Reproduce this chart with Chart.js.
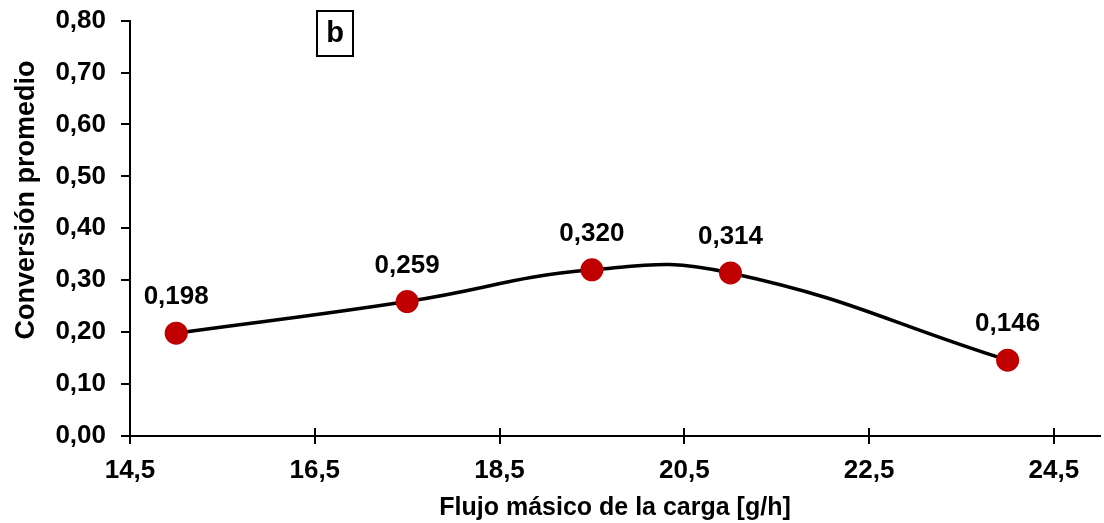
<!DOCTYPE html>
<html>
<head>
<meta charset="utf-8">
<script src="https://cdn.jsdelivr.net/npm/chart.js@4"></script>
<style>
    html, body { margin: 0; padding: 0; background: #ffffff; overflow: hidden; }
    #wrap { width: 1104px; height: 523px; overflow: hidden; position: relative; }
    #conversionChart { position: absolute; left: 0; top: -10px; }
</style>
</head>
<body>
<div id="wrap"><canvas id="conversionChart" width="1104" height="533"></canvas></div>
<script>
const flujoCarga = [15.0, 17.5, 19.5, 21.0, 24.0];
const conversion = [0.198, 0.259, 0.320, 0.314, 0.146];
const xTicks = [14.5, 16.5, 18.5, 20.5, 22.5, 24.5];
const yTicks = [0, 0.1, 0.2, 0.3, 0.4, 0.5, 0.6, 0.7, 0.8];
const panelLabel = "b";

const fontFamily = "'Liberation Sans', Arial, sans-serif";
const shift = 10; // canvas is moved up by this much

// labels, y title, panel box and inward half of x ticks
const extras = {
    id: "extras",
    afterDatasetsDraw(chart) {
        const ctx = chart.ctx;
        const meta = chart.getDatasetMeta(0);
        ctx.save();
        ctx.fillStyle = "#000";
        ctx.font = "bold 26px " + fontFamily;
        ctx.textAlign = "center";
        ctx.textBaseline = "middle";
        meta.data.forEach((pt, i) => {
            ctx.fillText(conversion[i].toFixed(3).replace(".", ","), pt.x, pt.y - 36);
        });
        ctx.restore();
    },
    afterDraw(chart) {
        const ctx = chart.ctx;
        const x = chart.scales.x;
        const area = chart.chartArea;
        ctx.save();
        ctx.strokeStyle = "#000";
        ctx.lineWidth = 2;
        xTicks.forEach((v) => {
            const px = Math.round(x.getPixelForValue(v));
            ctx.beginPath();
            ctx.moveTo(px, area.bottom - 8);
            ctx.lineTo(px, area.bottom);
            ctx.stroke();
        });

        // y axis title
        ctx.translate(27, 200 + shift);
        ctx.rotate(-Math.PI / 2);
        ctx.font = "bold 27px " + fontFamily;
        ctx.fillStyle = "#000";
        ctx.textAlign = "center";
        ctx.textBaseline = "middle";
        ctx.fillText("Conversión promedio", 0, 0);
        ctx.restore();

        // panel letter box
        ctx.save();
        ctx.strokeStyle = "#000";
        ctx.lineWidth = 2;
        ctx.strokeRect(317, 11 + shift, 36, 45);
        ctx.font = "bold 29px " + fontFamily;
        ctx.fillStyle = "#000";
        ctx.textAlign = "center";
        ctx.textBaseline = "middle";
        ctx.fillText(panelLabel, 335, 34 + shift);
        ctx.restore();
    }
};

new Chart(document.getElementById("conversionChart").getContext("2d"), {
    type: "line",
    data: {
        datasets: [
            {
                data: flujoCarga.map((f, i) => ({ x: f, y: conversion[i] })),
                borderColor: "#000000",
                borderWidth: 3.5,
                tension: 0.45,
                pointRadius: 11.5,
                pointBackgroundColor: "#C00000",
                pointBorderColor: "#C00000",
                pointBorderWidth: 0,
            },
        ],
    },
    options: {
        responsive: false,
        animation: false,
        events: [],
        layout: { autoPadding: false, padding: { top: 21, right: 4, left: 0, bottom: 0 } },
        plugins: {
            legend: { display: false },
            tooltip: { enabled: false },
        },
        scales: {
            x: {
                type: "linear",
                min: 14.5,
                max: 25,
                afterBuildTicks: (scale) => {
                    scale.ticks = xTicks.map((v) => ({ value: v }));
                },
                afterFit: (scale) => {
                    scale.height = 87;
                },
                border: { color: "#000", width: 2 },
                grid: {
                    drawOnChartArea: false,
                    drawTicks: true,
                    tickLength: 8,
                    color: "#000",
                    lineWidth: 2,
                },
                ticks: {
                    color: "#000",
                    padding: 11,
                    maxRotation: 0,
                    font: { family: fontFamily, size: 26, weight: "bold" },
                    callback: (v) => v.toFixed(1).replace(".", ","),
                },
                title: {
                    display: true,
                    text: "Flujo másico de la carga [g/h]",
                    color: "#000",
                    padding: { top: 0, bottom: 0 },
                    font: { family: fontFamily, size: 25, weight: "bold" },
                },
            },
            y: {
                min: 0,
                max: 0.8,
                afterBuildTicks: (scale) => {
                    scale.ticks = yTicks.map((v) => ({ value: v }));
                },
                afterFit: (scale) => {
                    scale.width = 130;
                },
                border: { color: "#000", width: 2 },
                grid: {
                    drawOnChartArea: false,
                    drawTicks: true,
                    tickLength: 9,
                    color: "#000",
                    lineWidth: 2,
                },
                ticks: {
                    color: "#000",
                    padding: 15,
                    font: { family: fontFamily, size: 26, weight: "bold" },
                    callback: (v) => v.toFixed(2).replace(".", ","),
                },
            },
        },
    },
    plugins: [extras],
});
</script>
</body>
</html>
